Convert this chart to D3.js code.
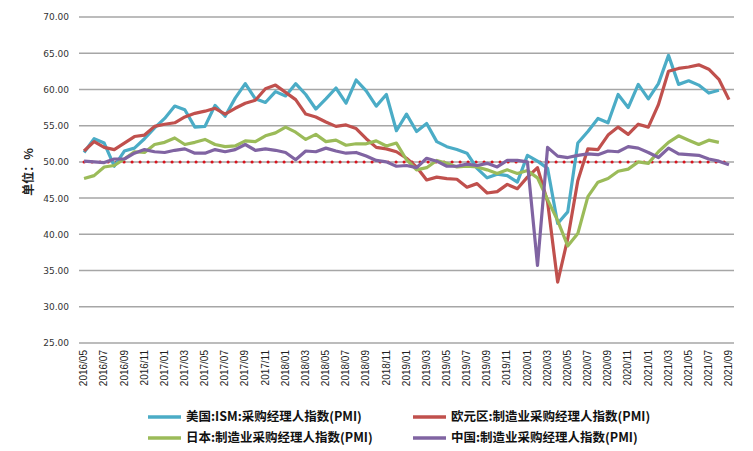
<!DOCTYPE html>
<html lang="zh">
<head>
  <meta charset="UTF-8">
  <title>PMI</title>
  <script src="https://d3js.org/d3.v7.min.js"></script>
  <style>
    body { margin: 0; background: #fff; }
    svg { display: block; font-family: "Liberation Sans", Arial, sans-serif; }
  </style>
</head>
<body>
  <div id="chart"></div>

  <script>
    const width = 753;
    const height = 451;
    const margin = {top: 17, right: 19, bottom: 108, left: 79};

    // 月份 2016/05 - 2021/09
    const months = d3.timeMonths(new Date(2016, 4, 1), new Date(2021, 9, 1))
      .map(d3.timeFormat("%Y/%m"));

    const yTicks = [25, 30, 35, 40, 45, 50, 55, 60, 65, 70];
    const baseline = 50;

    const usPmi = [
      51.3, 53.2, 52.6, 49.4, 51.5, 51.9, 53.2, 54.7,
      56.0, 57.7, 57.2, 54.8, 54.9, 57.8, 56.3, 58.8, 60.8, 58.7, 58.2, 59.7,
      59.1, 60.8, 59.3, 57.3, 58.7, 60.2, 58.1, 61.3, 59.8, 57.7, 59.3, 54.3,
      56.6, 54.2, 55.3, 52.8, 52.1, 51.7, 51.2, 49.1, 47.8, 48.3, 48.1, 47.2,
      50.9, 50.1, 49.1, 41.5, 43.1, 52.6, 54.2, 56.0, 55.4, 59.3, 57.5, 60.7,
      58.7, 60.8, 64.7, 60.7, 61.2, 60.6, 59.5, 59.9
    ];
    const euroPmi = [
      51.5, 52.8, 52.0, 51.7, 52.6, 53.5, 53.7, 54.9,
      55.2, 55.4, 56.2, 56.7, 57.0, 57.4, 56.6, 57.4, 58.1, 58.5, 60.1, 60.6,
      59.6, 58.6, 56.6, 56.2, 55.5, 54.9, 55.1, 54.6, 53.2, 52.0, 51.8, 51.4,
      50.5, 49.3, 47.5, 47.9, 47.7, 47.6, 46.5, 47.0, 45.7, 45.9, 46.9, 46.3,
      47.9, 49.2, 44.5, 33.4, 39.4, 47.4, 51.8, 51.7, 53.7, 54.8, 53.8, 55.2,
      54.8, 57.9, 62.5, 62.9, 63.1, 63.4, 62.8, 61.4, 58.6
    ];
    const japanPmi = [
      47.7, 48.1, 49.3, 49.5, 50.4, 51.4, 51.3, 52.4,
      52.7, 53.3, 52.4, 52.7, 53.1, 52.4, 52.1, 52.2, 52.9, 52.8, 53.6, 54.0,
      54.8, 54.1, 53.1, 53.8, 52.8, 53.0, 52.3, 52.5, 52.5, 52.9, 52.2, 52.6,
      50.3, 48.9, 49.2, 50.2, 49.8, 49.3, 49.4, 49.3, 48.9, 48.4, 48.9, 48.4,
      48.8, 47.8, 44.8, 41.9, 38.4, 40.1, 45.2, 47.2, 47.7, 48.7, 49.0, 50.0,
      49.8, 51.4, 52.7, 53.6, 53.0, 52.4, 53.0, 52.7
    ];
    const chinaPmi = [
      50.1, 50.0, 49.9, 50.4, 50.4, 51.2, 51.7, 51.4,
      51.3, 51.6, 51.8, 51.2, 51.2, 51.7, 51.4, 51.7, 52.4, 51.6, 51.8, 51.6,
      51.3, 50.3, 51.5, 51.4, 51.9, 51.5, 51.2, 51.3, 50.8, 50.2, 50.0, 49.4,
      49.5, 49.2, 50.5, 50.1, 49.4, 49.4, 49.7, 49.5, 49.8, 49.3, 50.2, 50.2,
      50.0, 35.7, 52.0, 50.8, 50.6, 50.9, 51.1, 51.0, 51.5, 51.4, 52.1, 51.9,
      51.3, 50.6, 51.9, 51.1, 51.0, 50.9, 50.4, 50.1, 49.6
    ];

    const series = [
      {name: "美国:ISM:采购经理人指数(PMI)", values: usPmi, color: "#4bacc6"},
      {name: "欧元区:制造业采购经理人指数(PMI)", values: euroPmi, color: "#c0504d"},
      {name: "日本:制造业采购经理人指数(PMI)", values: japanPmi, color: "#9bbb59"},
      {name: "中国:制造业采购经理人指数(PMI)", values: chinaPmi, color: "#8064a2"}
    ];

    const svg = d3.select("#chart")
      .append("svg")
      .attr("width", width)
      .attr("height", height);

    const g = svg.append("g")
      .attr("transform", `translate(${margin.left},${margin.top})`);

    const innerW = width - margin.left - margin.right;
    const innerH = height - margin.top - margin.bottom;

    const x = d3.scaleBand()
      .domain(months)
      .range([0, innerW]);

    const y = d3.scaleLinear()
      .domain([25, 70])
      .range([innerH, 0]);

    // 网格线
    g.append("g")
      .selectAll("line")
      .data(yTicks)
      .join("line")
      .attr("x1", 0)
      .attr("x2", innerW)
      .attr("y1", d => y(d))
      .attr("y2", d => y(d))
      .attr("stroke", "#a6a6a6")
      .attr("stroke-width", 1.5);

    // y 轴
    const yAxis = g.append("g")
      .call(d3.axisLeft(y).tickValues(yTicks).tickFormat(d3.format(".2f")).tickSize(0).tickPadding(10));
    yAxis.select(".domain").remove();
    yAxis.selectAll("text")
      .attr("fill", "#333")
      .attr("font-family", "\"DejaVu Sans\", sans-serif")
      .attr("font-size", 9);

    // x 轴
    const xAxis = g.append("g")
      .attr("transform", `translate(0,${innerH})`)
      .call(d3.axisBottom(x).tickValues(months.filter((d, i) => i % 2 === 0)).tickSize(0));
    xAxis.select(".domain").remove();
    xAxis.selectAll("text")
      .attr("transform", "rotate(-90)")
      .attr("text-anchor", "end")
      .attr("dy", "0.32em")
      .attr("y", 0)
      .attr("x", -7)
      .attr("font-size", 10)
      .attr("fill", "#222");

    // y 轴标题
    svg.append("text")
      .attr("transform", "translate(33,172) rotate(-90)")
      .attr("text-anchor", "middle")
      .attr("font-family", "\"Noto Sans CJK SC\", sans-serif")
      .attr("font-weight", "bold")
      .attr("font-size", 12)
      .attr("fill", "#222")
      .text("单位：%");

    const cx = d => x(d) + x.bandwidth() / 2;

    const line = d3.line()
      .x((d, i) => cx(months[i]))
      .y(d => y(d));

    // 50 荣枯线
    g.append("line")
      .attr("x1", cx(months[0]))
      .attr("x2", cx(months[months.length - 1]))
      .attr("y1", y(baseline))
      .attr("y2", y(baseline))
      .attr("stroke", "#d8121c")
      .attr("stroke-width", 3)
      .attr("stroke-linecap", "round")
      .attr("stroke-dasharray", "0.1 7.9");

    g.selectAll(".series")
      .data(series)
      .join("path")
      .attr("class", "series")
      .attr("fill", "none")
      .attr("stroke", d => d.color)
      .attr("stroke-width", 3.2)
      .attr("stroke-linejoin", "round")
      .attr("d", d => line(d.values));

    // 图例
    const legendPos = [
      {x: 148, y: 417}, {x: 413, y: 417},
      {x: 148, y: 438}, {x: 413, y: 438}
    ];
    const legend = svg.append("g")
      .selectAll("g")
      .data(series)
      .join("g")
      .attr("transform", (d, i) => `translate(${legendPos[i].x},${legendPos[i].y})`);

    legend.append("line")
      .attr("x1", 0)
      .attr("x2", 33)
      .attr("stroke", d => d.color)
      .attr("stroke-width", 3.5);

    legend.append("text")
      .attr("x", 38)
      .attr("dy", "0.35em")
      .attr("font-family", "\"Noto Sans CJK SC\", sans-serif")
      .attr("font-weight", "bold")
      .attr("font-size", 12.5)
      .attr("fill", "#111")
      .text(d => d.name);
  </script>
</body>
</html>
